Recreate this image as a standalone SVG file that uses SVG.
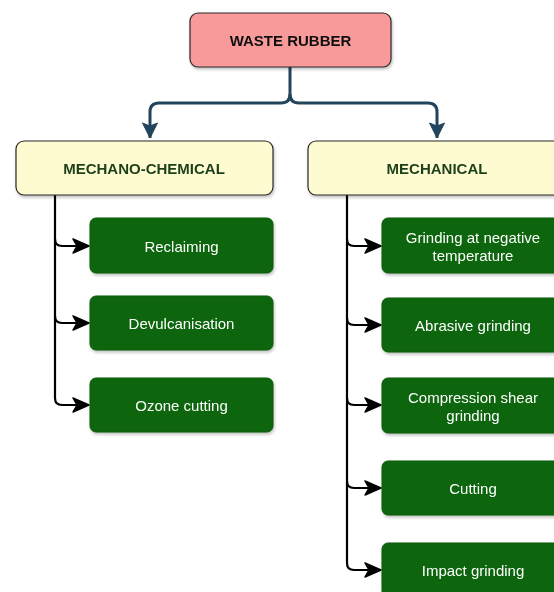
<svg xmlns="http://www.w3.org/2000/svg" width="554" height="592" viewBox="0 0 554 592">
<style>
.pink{fill:#f89a9a;stroke:#2a2a2a;stroke-width:1.2}
.yel{fill:#fffbd0;stroke:#2a2a2a;stroke-width:1.2}
.grn{fill:#0b650b;stroke:#0a5a0a;stroke-width:1}
.t{font-family:"Liberation Sans",Arial,sans-serif;text-anchor:middle;dominant-baseline:central}
.tb{font-weight:bold;font-size:15px;fill:#111}
.ty{font-weight:bold;font-size:15px;fill:#1c3f1c}
.tw{font-size:15px;fill:#ffffff}
.blue{fill:none;stroke:#23445d;stroke-width:3}
.blk{fill:none;stroke:#000;stroke-width:2.2}
</style>
<defs>
<filter id="sh" x="-10%" y="-10%" width="130%" height="140%">
<feDropShadow dx="1" dy="2" stdDeviation="1.5" flood-color="#000" flood-opacity="0.25"/>
</filter>
<marker id="ak" viewBox="0 0 18 16" refX="17" refY="8" markerWidth="18" markerHeight="16" orient="auto" markerUnits="userSpaceOnUse">
<path d="M1,1 L17,8 L1,15 L5,8 Z" fill="#000" stroke="#000" stroke-width="1.5" stroke-linejoin="round"/>
</marker>
<marker id="abl" viewBox="0 0 17 17" refX="16" refY="8.5" markerWidth="17" markerHeight="17" orient="auto" markerUnits="userSpaceOnUse">
<path d="M1,1 L16,8.5 L1,16 L4,8.5 Z" fill="#23445d" stroke="#23445d" stroke-width="1" stroke-linejoin="round"/>
</marker>
</defs>

<g id="connectors">
<path class="blue" d="M290,67 V94 Q290,103 281,103 H159 Q150,103 150,112 V138" marker-end="url(#abl)"/>
<path class="blue" d="M290,94 Q290,103 299,103 H428 Q437,103 437,112 V138" marker-end="url(#abl)"/>
<path class="blk" d="M55,195 V239 Q55,246 62,246 H89" marker-end="url(#ak)"/>
<path class="blk" d="M55,239 V316 Q55,323 62,323 H89" marker-end="url(#ak)"/>
<path class="blk" d="M55,316 V398 Q55,405 62,405 H89" marker-end="url(#ak)"/>
<path class="blk" d="M347,195 V239 Q347,246 354,246 H381" marker-end="url(#ak)"/>
<path class="blk" d="M347,239 V318 Q347,325 354,325 H381" marker-end="url(#ak)"/>
<path class="blk" d="M347,318 V398 Q347,405 354,405 H381" marker-end="url(#ak)"/>
<path class="blk" d="M347,398 V481 Q347,488 354,488 H381" marker-end="url(#ak)"/>
<path class="blk" d="M347,481 V563 Q347,570 354,570 H381" marker-end="url(#ak)"/>
</g>

<g id="waste-rubber" filter="url(#sh)">
<rect class="pink" x="190" y="13" width="201" height="54" rx="8"/>
<text class="t tb" x="290.5" y="40">WASTE RUBBER</text>
</g>
<g id="mechano-chemical" filter="url(#sh)">
<rect class="yel" x="16" y="141" width="257" height="54" rx="8"/>
<text class="t ty" x="144" y="168">MECHANO-CHEMICAL</text>
</g>
<g id="mechanical" filter="url(#sh)">
<rect class="yel" x="308" y="141" width="258" height="54" rx="8"/>
<text class="t ty" x="437" y="168">MECHANICAL</text>
</g>

<g id="reclaiming" filter="url(#sh)">
<rect class="grn" x="90" y="218" width="183" height="55" rx="6"/>
<text class="t tw" x="181.5" y="246">Reclaiming</text>
</g>
<g id="devulcanisation" filter="url(#sh)">
<rect class="grn" x="90" y="296" width="183" height="54" rx="6"/>
<text class="t tw" x="181.5" y="323">Devulcanisation</text>
</g>
<g id="ozone-cutting" filter="url(#sh)">
<rect class="grn" x="90" y="378" width="183" height="54" rx="6"/>
<text class="t tw" x="181.5" y="405">Ozone cutting</text>
</g>

<g id="grinding-negative" filter="url(#sh)">
<rect class="grn" x="382" y="218" width="183" height="55" rx="6"/>
<text class="t tw" x="473" y="237">Grinding at negative</text>
<text class="t tw" x="473" y="255">temperature</text>
</g>
<g id="abrasive-grinding" filter="url(#sh)">
<rect class="grn" x="382" y="298" width="183" height="54" rx="6"/>
<text class="t tw" x="473" y="325">Abrasive grinding</text>
</g>
<g id="compression-shear" filter="url(#sh)">
<rect class="grn" x="382" y="378" width="183" height="55" rx="6"/>
<text class="t tw" x="473" y="397">Compression shear</text>
<text class="t tw" x="473" y="415">grinding</text>
</g>
<g id="cutting" filter="url(#sh)">
<rect class="grn" x="382" y="461" width="183" height="54" rx="6"/>
<text class="t tw" x="473" y="488">Cutting</text>
</g>
<g id="impact-grinding" filter="url(#sh)">
<rect class="grn" x="382" y="543" width="183" height="54" rx="6"/>
<text class="t tw" x="473" y="570">Impact grinding</text>
</g>
</svg>
